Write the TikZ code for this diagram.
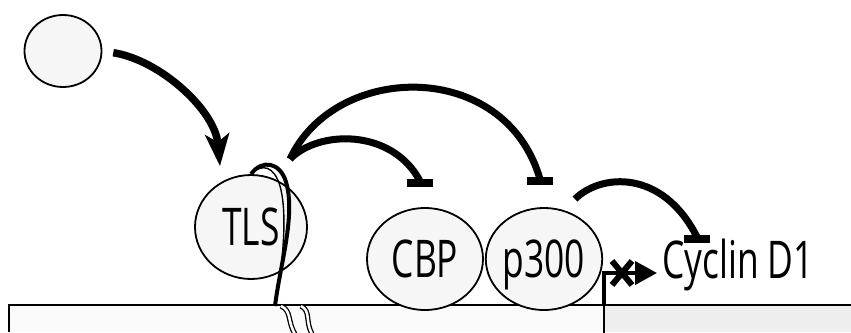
\documentclass[tikz,border=0pt]{standalone}
\usepackage{fontspec}
\setmainfont[FakeStretch=0.68]{Open Sans}
\usetikzlibrary{arrows.meta,shapes.geometric}
\begin{document}
\begin{tikzpicture}[x=1pt,y=-1pt,
  blob/.style={ellipse,draw,line width=1.8pt,fill=gray!7,inner sep=0pt,
    font=\fontsize{52}{56}\selectfont,text height=37pt,text depth=0pt},
  lbl/.style={inner sep=0pt,font=\fontsize{52}{56}\selectfont},
  curl/.style={line width=7.5pt,-{Stealth[length=32pt,width=24pt,inset=8pt]}},
  block/.style={line width=7pt,-{Bar[width=26pt,line width=8pt]}},
  strand/.style={line width=1.3pt,double,double distance=2.5pt}]
  \useasboundingbox (0,0) rectangle (851,332);
  \fill[gray!4] (9,305) rectangle (604,332);
  \fill[gray!13] (604,305) rectangle (851,332);
  \draw[line width=1.8pt] (9,332) -- (9,305) -- (851,305);

  \node[blob,minimum width=77pt,minimum height=72pt] (lig) at (63,51) {};
  \node[blob,minimum width=112pt,minimum height=104pt] (tls) at (251,227) {TLS};
  \node[blob,minimum width=116pt,minimum height=102pt] (cbp) at (425,259) {CBP};
  \node[blob,minimum width=114pt,minimum height=102pt] (p300) at (544,259) {p300};
  \node[lbl,anchor=base west] (cyc) at (662,278) {Cyclin D1};

  \draw[line width=4pt] (tls.north) .. controls (262,159) and (280,162) .. (286,182)
    .. controls (296,215) and (280,265) .. (275,306);
  \draw[line width=1.4pt] (tls.north) .. controls (262,163) and (274,166) .. (280,186)
    .. controls (288,215) and (282,262) .. (278,292);
  \draw[strand] (281,306) .. controls (292,311) and (287,321) .. (295,334);
  \draw[strand] (301,306) .. controls (311,311) and (305,321) .. (312,334);

  \coordinate (hub) at ([xshift=39pt,yshift=15pt]tls.north);
  \draw[curl,shorten <=11pt] (lig.east) .. controls (160,60) and (215,110) .. ([xshift=-31pt,yshift=8pt]tls.north);
  \draw[block] (hub) .. controls (318,130) and (392,128) .. ([xshift=-5pt,yshift=26pt]cbp.north) -- ([xshift=-5pt,yshift=20pt]cbp.north);
  \draw[block] (hub) .. controls (335,62) and (505,58) .. ([xshift=-4pt,yshift=28pt]p300.north) -- ([xshift=-4pt,yshift=22pt]p300.north);
  \draw[block] ([xshift=31pt,yshift=8pt]p300.north) .. controls (600,174) and (662,168) .. ([xshift=35pt,yshift=41pt]cyc.base west) -- ([xshift=35pt,yshift=35pt]cyc.base west);

  \coordinate (tss) at (604,305);
  \draw[line width=1.8pt] (tss) -- ++(0,28);
  \draw[line width=4pt,-{Triangle[length=22pt,width=23pt]}] (tss) |- ([xshift=-5pt,yshift=5pt]cyc.base west);
  \draw[line width=6pt] (622,273) +(-10,-12) -- +(10,12) +(10,-12) -- +(-10,12);
\end{tikzpicture}
\end{document}
